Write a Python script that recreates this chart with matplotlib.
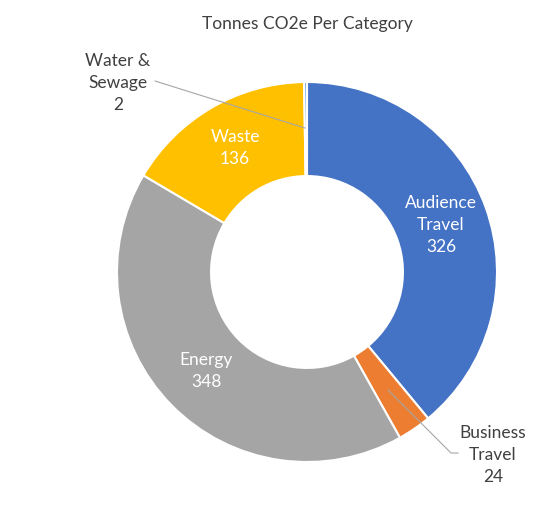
import matplotlib
matplotlib.use('Agg')
import matplotlib.pyplot as plt

# data
categories = ['Audience\nTravel', 'Business\nTravel', 'Energy', 'Waste', 'Water &\nSewage']
values = [326, 24, 348, 136, 2]
colors = ['#4472C4', '#ED7D31', '#A5A5A5', '#FFC000', '#5B9BD5']

plt.rcParams['font.family'] = ['Lato', 'DejaVu Sans']

fig = plt.figure(figsize=(5.39, 5.07), dpi=100)
ax = fig.add_axes([0, 0, 1, 1])

H = 507
cx, cy, R = 307, H - 272, 190

ax.pie(values, colors=colors, startangle=90, counterclock=False,
       center=(cx, cy), radius=R, frame=True,
       wedgeprops=dict(width=R * 0.495, edgecolor='white', linewidth=1.5))
ax.set_xlim(0, 539)
ax.set_ylim(0, H)
ax.set_aspect('equal')
ax.axis('off')

fig.text(307 / 539, 1 - 24 / H, 'Tonnes CO2e Per Category', ha='center', va='center',
         fontsize=12.5, color='#404040')

fs = 12.5
inside = {0: (441, 225), 2: (206, 371), 3: (235, 148)}
for i, (x, y) in inside.items():
    ax.text(x, H - y, categories[i] + '\n' + str(values[i]), ha='center', va='center',
            fontsize=fs, color='white', linespacing=1.5)

# outside labels with leader lines
ax.text(118, H - 83, categories[4] + '\n' + str(values[4]), ha='center', va='center',
        fontsize=fs, color='#404040', linespacing=1.5)
ax.plot([155, 305], [H - 81, H - 128], color='#A6A6A6', lw=0.8)

ax.text(493, H - 455, categories[1] + '\n' + str(values[1]), ha='center', va='center',
        fontsize=fs, color='#404040', linespacing=1.5)
ax.plot([388, 451, 458], [H - 390, H - 453, H - 453], color='#A6A6A6', lw=0.8)

fig.savefig('out.png', dpi=100)
